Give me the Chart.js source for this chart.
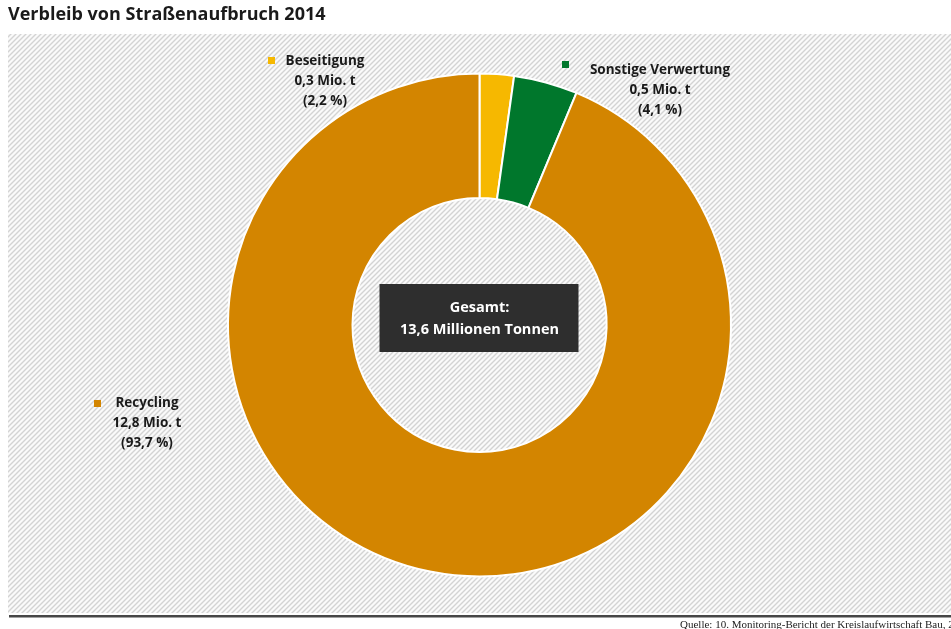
<!DOCTYPE html>
<html>
<head>
<meta charset="utf-8">
<script src="https://cdn.jsdelivr.net/npm/chart.js@4/dist/chart.umd.min.js"></script>
<style>
  html, body { margin: 0; padding: 0; background: #fff; }
  #wrap { width: 951px; height: 629px; }
</style>
</head>
<body>
<div id="wrap"><canvas id="myChart" width="951" height="629"></canvas></div>
<script>
// Verbleib von Straßenaufbruch 2014
var kategorien = ['Beseitigung', 'Sonstige Verwertung', 'Recycling'];
var mengenMioT = [0.3, 0.5, 12.8];
var anteileProzent = [2.2, 4.1, 93.7];
var gesamtMioT = 13.6;
var farben = ['#f6b800', '#00772c', '#d38500'];

// where each label block sits (square marker + three centred lines)
var labelPos = [
  { sx: 268, sy: 57, cx: 325, y: 61 },
  { sx: 562, sy: 61, cx: 660, y: 70 },
  { sx: 94, sy: 400, cx: 147, y: 403 }
];

function zahl(v) {
  return v.toFixed(1).replace('.', ',');
}

// striped grey background, drawn before the doughnut
var hintergrund = {
  id: 'hintergrund',
  beforeDraw: function (chart) {
    var ctx = chart.ctx;
    var tile = document.createElement('canvas');
    tile.width = 5; tile.height = 5;
    var t = tile.getContext('2d');
    t.fillStyle = '#fafafa';
    t.fillRect(0, 0, 5, 5);
    t.strokeStyle = '#d3d3d3';
    t.lineWidth = 1.4;
    t.beginPath();
    t.moveTo(-1, 6); t.lineTo(6, -1);
    t.moveTo(-1, 1); t.lineTo(1, -1);
    t.moveTo(4, 6); t.lineTo(6, 4);
    t.stroke();

    ctx.save();
    ctx.fillStyle = '#ffffff';
    ctx.fillRect(0, 0, chart.width, chart.height);
    ctx.fillStyle = ctx.createPattern(tile, 'repeat');
    ctx.fillRect(8, 34, chart.width - 8, 579);
    ctx.fillStyle = '#474747';
    ctx.fillRect(9, 615, chart.width - 9, 2.5);
    ctx.restore();
  }
};

// title, labels, centre box and source line
var texte = {
  id: 'texte',
  afterDraw: function (chart) {
    var ctx = chart.ctx;
    ctx.save();
    ctx.textBaseline = 'middle';

    ctx.fillStyle = '#1a1a1a';
    ctx.textAlign = 'left';
    ctx.font = 'bold 18px "Open Sans"';
    ctx.fillText('Verbleib von Straßenaufbruch 2014', 8, 15);

    for (var i = 0; i < kategorien.length; i++) {
      var p = labelPos[i];
      ctx.fillStyle = farben[i];
      ctx.fillRect(p.sx, p.sy, 7, 7);
      ctx.fillStyle = '#1a1a1a';
      ctx.textAlign = 'center';
      ctx.font = 'bold 13.5px "Open Sans"';
      ctx.fillText(kategorien[i], p.cx, p.y);
      ctx.fillText(zahl(mengenMioT[i]) + ' Mio. t', p.cx, p.y + 20.5);
      ctx.fillText('(' + zahl(anteileProzent[i]) + ' %)', p.cx, p.y + 40.5);
    }

    var c = chart.getDatasetMeta(0).data[0];
    ctx.fillStyle = '#2e2e2e';
    ctx.fillRect(c.x - 100, 284, 199, 68);
    ctx.fillStyle = '#ffffff';
    ctx.textAlign = 'center';
    ctx.font = 'bold 14.5px "Open Sans"';
    ctx.fillText('Gesamt:', c.x, 308);
    ctx.fillText(zahl(gesamtMioT) + ' Millionen Tonnen', c.x, 330);

    ctx.fillStyle = '#222';
    ctx.textAlign = 'left';
    ctx.font = '11px "Liberation Serif"';
    ctx.fillText('Quelle: 10. Monitoring-Bericht der Kreislaufwirtschaft Bau, 2017', 680, 625);
    ctx.restore();
  }
};

var ctx = document.getElementById('myChart').getContext('2d');
var chart = new Chart(ctx, {
  type: 'doughnut',
  data: {
    labels: kategorien,
    datasets: [{
      data: anteileProzent,
      backgroundColor: farben,
      borderColor: '#ffffff',
      borderWidth: 2
    }]
  },
  options: {
    responsive: false,
    animation: false,
    cutout: '50.5%',
    layout: { padding: { left: 227, right: 219, top: 72, bottom: 51 } },
    plugins: {
      legend: { display: false },
      tooltip: { enabled: false }
    }
  },
  plugins: [hintergrund, texte]
});
</script>
</body>
</html>
